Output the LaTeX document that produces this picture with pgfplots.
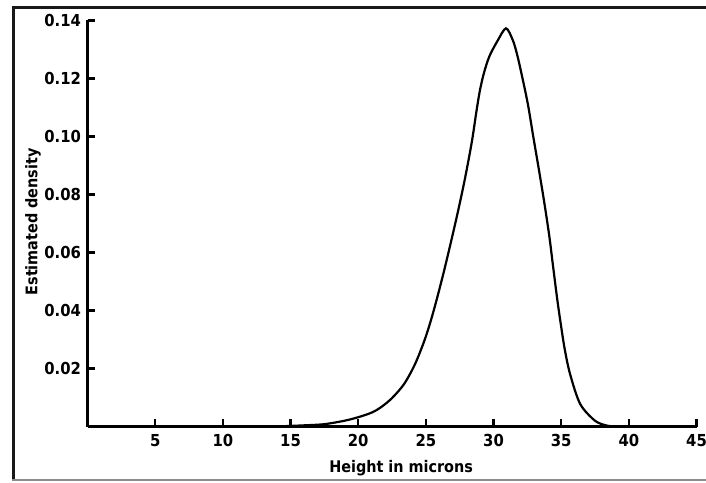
\documentclass[border=0pt]{standalone}
\usepackage{fontspec}
\setmainfont{DejaVu Sans Condensed}
\usepackage{pgfplots}
\pgfplotsset{compat=1.18}
\begin{document}
\begin{tikzpicture}
\begin{axis}[
  at={(87.5pt,55.5pt)}, anchor=south west,
  scale only axis, width=609pt, height=406pt,
  xmin=0, xmax=45, ymin=0, ymax=0.14,
  axis lines=left,
  axis line style={black, line width=2.2pt, -},
  xtick={5,10,...,45},
  ytick={0.02,0.04,0.06,0.08,0.10,0.12,0.14},
  yticklabels={0.02,0.04,0.06,0.08,0.10,0.12,0.14},
  tick align=inside,
  major tick length=7pt,
  every tick/.style={black, line width=2.4pt},
  tick label style={font=\fontsize{16.5}{18}\selectfont\bfseries},
  /pgf/number format/assume math mode=true,
  xticklabel style={yshift=-4pt},
  yticklabel style={xshift=-3pt},
  scaled y ticks=false,
  xlabel={Height in microns},
  ylabel={Estimated density},
  every axis x label/.style={at={(axis description cs:0.515,-0.1145)}, anchor=base, font=\fontsize{16}{18}\selectfont\bfseries},
  every axis y label/.style={at={(axis description cs:-0.0824,0.504)}, anchor=base, rotate=90, font=\fontsize{16}{18}\selectfont\bfseries},
  clip=false,
]
% tick marks pointing into the plot
\addplot[ycomb, black, line width=2.4pt, mark=none] coordinates {
(5,0.0025) (10,0.0025) (15,0.0025) (20,0.0025) (25,0.0025)
(30,0.0025) (35,0.0025) (40,0.0025) (45,0.0025)
};
\addplot[xcomb, black, line width=2.4pt, mark=none] coordinates {
(0.52,0.02) (0.52,0.04) (0.52,0.06) (0.52,0.08) (0.52,0.10)
(0.52,0.12) (0.52,0.14)
};
% estimated density curve
\addplot[black, line width=2.2pt, smooth, tension=0.5] coordinates {
(14.0,0.0000) (15.0,0.0002) (16.0,0.0004) (17.5,0.0008) (19.0,0.0020)
(20.0,0.0032) (21.0,0.0048) (21.7,0.0067) (22.5,0.0098) (23.4,0.0147)
(24.2,0.0215) (24.9,0.0297) (25.4,0.0370) (25.9,0.0455) (26.4,0.0547)
(26.9,0.0645) (27.4,0.0747) (27.9,0.0857) (28.4,0.0982) (28.75,0.1090)
(29.0,0.1160) (29.3,0.1220) (29.7,0.1277) (30.3,0.1330) (30.92,0.1373)
(31.42,0.1333) (31.72,0.1287) (32.01,0.1229) (32.53,0.1114) (32.94,0.0999)
(33.36,0.0884) (33.76,0.0770) (34.13,0.0654) (34.42,0.0545) (34.72,0.0435)
(34.95,0.0360) (35.25,0.0270) (35.65,0.0182) (36.4,0.0078) (37.47,0.0021)
(38.3,0.0004) (39.0,0.0000)
};
\end{axis}
\draw[line width=3pt, black!90] (13.5pt,1pt) -- (13.5pt,474.5pt);
\draw[line width=3pt, black!90] (12pt,474.5pt) -- (706pt,474.5pt);
\draw[line width=2pt, black!45] (12pt,2pt) -- (706pt,2pt);
\pgfresetboundingbox
\useasboundingbox (0pt,0pt) rectangle (706pt,482pt);
\end{tikzpicture}
\end{document}
